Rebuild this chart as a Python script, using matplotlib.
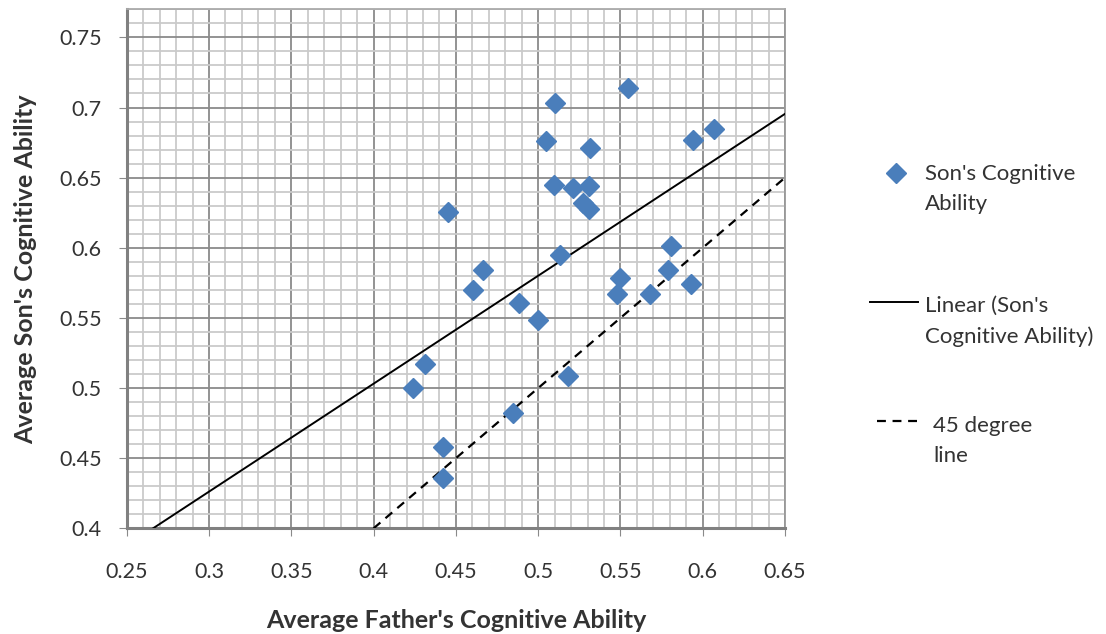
import numpy as np
import matplotlib.pyplot as plt
from matplotlib.lines import Line2D
from matplotlib.ticker import MultipleLocator

plt.rcParams['font.family'] = ['Lato', 'DejaVu Sans']

# father / son average cognitive ability
father = [0.5548, 0.5102, 0.5046, 0.5315, 0.5942, 0.6070, 0.5098, 0.5213,
          0.5310, 0.5270, 0.5310, 0.4454, 0.5132, 0.5805, 0.4667, 0.4606,
          0.5790, 0.5497, 0.5477, 0.5679, 0.5928, 0.4883, 0.4997, 0.4312,
          0.4241, 0.5183, 0.4849, 0.4420, 0.4424]
son = [0.7136, 0.7029, 0.6761, 0.6714, 0.6769, 0.6850, 0.6447, 0.6424,
       0.6440, 0.6321, 0.6279, 0.6254, 0.5945, 0.6016, 0.5840, 0.5702,
       0.5840, 0.5786, 0.5667, 0.5667, 0.5743, 0.5607, 0.5483, 0.5171,
       0.5000, 0.5083, 0.4821, 0.4583, 0.4357]

x_ticks = [0.25, 0.3, 0.35, 0.4, 0.45, 0.5, 0.55, 0.6, 0.65]
y_ticks = [0.4, 0.45, 0.5, 0.55, 0.6, 0.65, 0.7, 0.75]

W, H = 1106, 634
fig = plt.figure(figsize=(W / 100, H / 100), dpi=100)
ax = fig.add_axes([0.1146, 0.1667, 0.5952, 0.8186])
BLUE = '#4a7ebb'
TXT = '#333333'

# trend line through the points
slope, icpt = np.polyfit(father, son, 1)
xs = np.array([0.25, 0.65])
ax.plot(xs, slope * xs + icpt, color='black', lw=1.4, zorder=3)

# 45 degree reference
ax.plot([0.4, 0.65], [0.4, 0.65], color='black', lw=1.6, ls=(0, (4, 3)),
        zorder=3)

ax.plot(father, son, ls='none', marker='D', ms=10, color=BLUE, zorder=4)

ax.set_xlim(0.25, 0.65)
ax.set_ylim(0.4, 0.77)
ax.set_xticks(x_ticks)
ax.set_yticks(y_ticks)
ax.set_xticklabels([f'{v:g}' for v in x_ticks])
ax.set_yticklabels([f'{v:g}' for v in y_ticks])
ax.xaxis.set_minor_locator(MultipleLocator(0.01))
ax.yaxis.set_minor_locator(MultipleLocator(0.01))
ax.grid(which='minor', color='#cacaca', lw=1.3)
ax.grid(which='major', color='#8a8a8a', lw=1.3)
ax.set_axisbelow(True)
ax.tick_params(which='major', length=6, color='#8a8a8a', labelsize=15.5,
               labelcolor=TXT)
ax.tick_params(axis='x', pad=18)
ax.tick_params(axis='y', pad=12)
ax.tick_params(which='minor', length=0)

ax.spines['top'].set_color('#aaaaaa')
ax.spines['right'].set_color('#999999')
for side in ['top', 'right']:
    ax.spines[side].set_linewidth(1.3)
for side in ['left', 'bottom']:
    ax.spines[side].set_color('#808080')
    ax.spines[side].set_linewidth(2.2)

ax.set_xlabel("Average Father's Cognitive Ability", fontsize=18,
              fontweight='bold', color=TXT)
ax.set_ylabel("Average Son's Cognitive Ability", fontsize=18,
              fontweight='bold', color=TXT)
ax.xaxis.set_label_coords(0.5, -0.156)
ax.yaxis.set_label_coords(-0.136, 0.5)


# legend drawn by hand so the keys sit on the first text line
def fx(px):
    return px / W


def fy(py):
    return 1 - py / H


fig.add_artist(Line2D([fx(896)], [fy(173)], marker='D', ms=10, color=BLUE,
                      transform=fig.transFigure))
fig.add_artist(Line2D([fx(870), fx(918)], [fy(302), fy(302)], color='black',
                      lw=1.4, transform=fig.transFigure))
fig.add_artist(Line2D([fx(877), fx(923)], [fy(421), fy(421)], color='black',
                      lw=1.6, ls=(0, (4, 3)), transform=fig.transFigure))

legend_items = [("Son's Cognitive\nAbility", 925, 164),
                ("Linear (Son's\nCognitive Ability)", 925, 296),
                ("45 degree\nline", 933, 416)]
for label, px, py in legend_items:
    fig.text(fx(px), fy(py), label, fontsize=16, color=TXT, ha='left',
             va='top', linespacing=1.6)

fig.savefig('out.png', dpi=100)
